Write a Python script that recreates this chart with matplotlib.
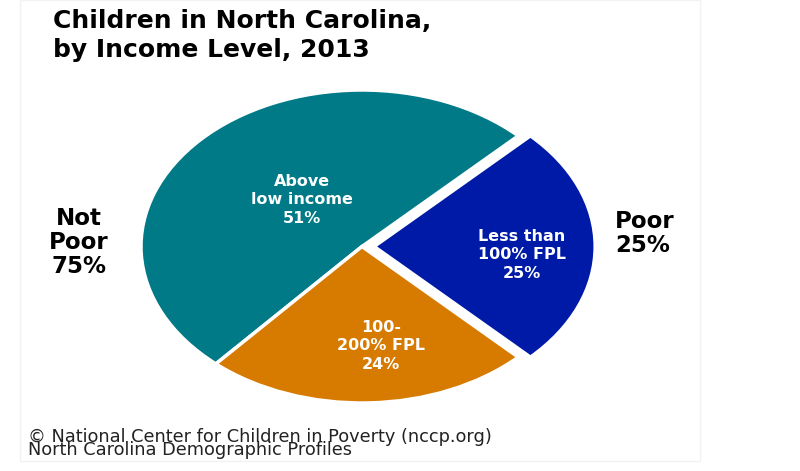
import matplotlib
matplotlib.use("Agg")
import matplotlib.pyplot as plt
from matplotlib.patches import Rectangle

# Data
labels = ["Less than\n100% FPL\n25%", "Above\nlow income\n51%", "100-\n200% FPL\n24%"]
values = [25, 51, 24]
colors = ["#001aa8", "#007a87", "#d67a00"]
explode = [0.055, 0, 0]

side_labels = ["Not\nPoor\n75%", "Poor\n25%"]
title = "Children in North Carolina,\nby Income Level, 2013"
source = "\u00a9 National Center for Children in Poverty (nccp.org)\nNorth Carolina Demographic Profiles"

W, H = 800, 471
fig = plt.figure(figsize=(W / 100, H / 100), dpi=100)

def fx(px):
    return px / W

def fy(py):
    return 1 - py / H

# faint frame around the chart area
fig.patches.append(Rectangle((fx(20), fy(461)), fx(700) - fx(20), fy(0) - fy(461),
                             transform=fig.transFigure, fill=False,
                             edgecolor="#f2f2f2", linewidth=1))

# pie axes: unequal aspect gives the squashed (elliptical) pie
rx, ry = 221, 156.5
cx, cy = 362, 246.5
lim = 1.3
ax = fig.add_axes([fx(cx - rx * lim), fy(cy + ry * lim), 2 * rx * lim / W, 2 * ry * lim / H])
wedges, _ = ax.pie(values, colors=colors, explode=explode, startangle=-45,
                   counterclock=True,
                   wedgeprops=dict(edgecolor="white", linewidth=2.5))
ax.set_aspect("auto")
ax.set_xlim(-lim, lim)
ax.set_ylim(-lim, lim)
ax.axis("off")

# labels inside the slices (x centre, baseline of last line)
inner_pos = [(522, 278), (302, 223), (381, 369)]
for lab, (px, py) in zip(labels, inner_pos):
    fig.text(fx(px), fy(py), lab, ha="center", va="baseline", color="white",
             fontsize=11.5, fontweight="bold", linespacing=1.3)

# group labels outside the pie
fig.text(fx(79), fy(273), side_labels[0], ha="center", va="baseline",
         fontsize=16.5, fontweight="bold", linespacing=1.05)
fig.text(fx(615), fy(252), side_labels[1], ha="left", va="baseline",
         fontsize=16.5, fontweight="bold", linespacing=1.05)

fig.text(fx(53), fy(57), title, ha="left", va="baseline", fontsize=18,
         fontweight="bold", linespacing=1.245)

fig.text(fx(28), fy(455), source, ha="left", va="baseline", fontsize=12.8,
         linespacing=0.67, color="#222222")

fig.savefig("out.png", dpi=100)
